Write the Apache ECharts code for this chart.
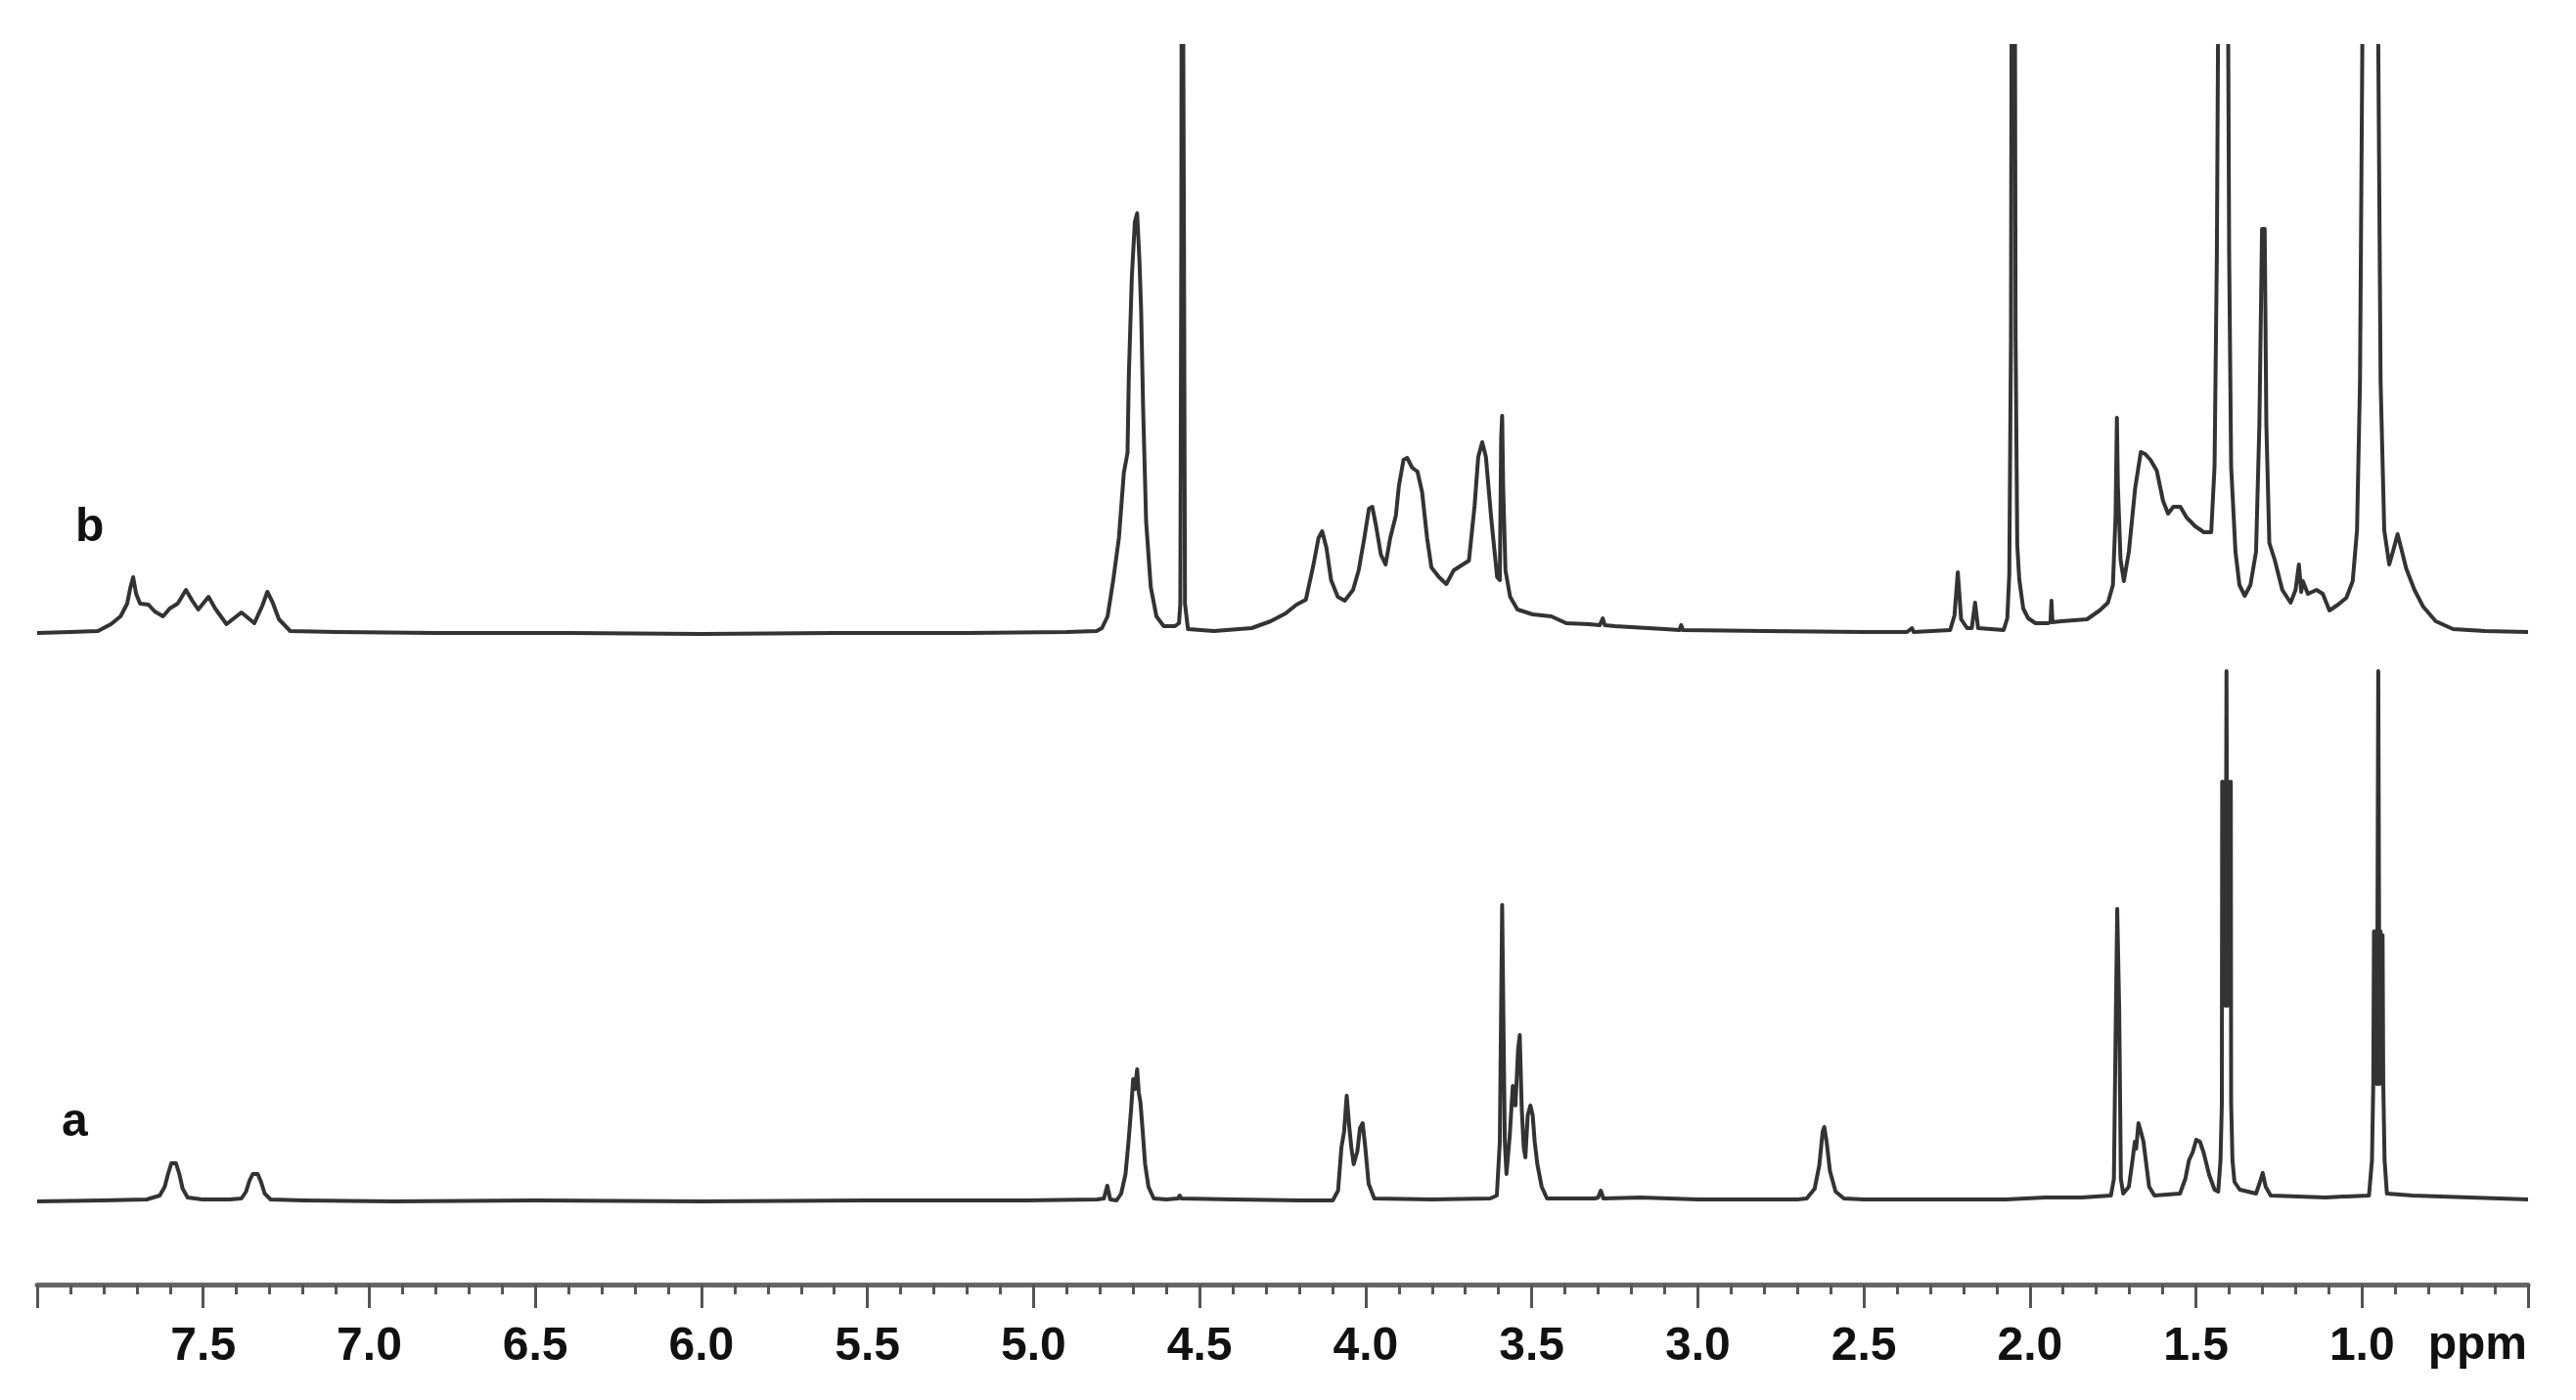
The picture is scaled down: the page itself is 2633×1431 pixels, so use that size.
<!DOCTYPE html>
<html>
<head>
<meta charset="utf-8">
<title>1H NMR spectra a / b</title>
<script src="https://cdn.jsdelivr.net/npm/echarts@6/dist/echarts.min.js"></script>
<style>
    html, body { margin: 0; padding: 0; background: #fff; }
    #chart { width: 2633px; height: 1431px; }
</style>
</head>
<body>
<div id="chart"></div>
<script>
// spectrum a (lower trace): [ppm, intensity]
const traceA = [
    [8.00, 0], [7.80, 1], [7.67, 2], [7.631, 6], [7.616, 15], [7.606, 28], [7.596, 39], [7.582, 39],
    [7.572, 28], [7.562, 13], [7.547, 4], [7.503, 2], [7.42, 2], [7.385, 3], [7.371, 10], [7.361, 21],
    [7.351, 28], [7.336, 28], [7.326, 20], [7.315, 8], [7.297, 2], [7.20, 1], [6.93, 0], [6.50, 1],
    [6.00, 0], [5.50, 1], [5.02, 1], [4.809, 2], [4.788, 3], [4.778, 16], [4.769, 2], [4.750, 1],
    [4.736, 8], [4.723, 28], [4.714, 61], [4.706, 95], [4.700, 125], [4.694, 115], [4.688, 135],
    [4.683, 111], [4.678, 101], [4.672, 75], [4.664, 38], [4.654, 15], [4.638, 3], [4.60, 2],
    [4.565, 3], [4.560, 6], [4.555, 3], [4.40, 2], [4.20, 1], [4.099, 1], [4.083, 11], [4.073, 55],
    [4.065, 71], [4.057, 108], [4.049, 75], [4.043, 55], [4.036, 38], [4.025, 51], [4.017, 75],
    [4.009, 80], [4.001, 55], [3.991, 18], [3.974, 3], [3.80, 2], [3.625, 3], [3.605, 6], [3.596, 61],
    [3.589, 303], [3.581, 61], [3.576, 28], [3.566, 68], [3.557, 118], [3.549, 98], [3.541, 155],
    [3.536, 170], [3.530, 95], [3.524, 55], [3.519, 45], [3.512, 88], [3.504, 98], [3.497, 88],
    [3.491, 61], [3.483, 38], [3.470, 15], [3.454, 3], [3.310, 3], [3.300, 4], [3.292, 11], [3.284, 3],
    [3.172, 4], [3.00, 2], [2.80, 2], [2.70, 2], [2.672, 3], [2.648, 13], [2.634, 37], [2.624, 71],
    [2.619, 76], [2.612, 61], [2.602, 31], [2.585, 10], [2.560, 3], [2.50, 2], [2.30, 2], [2.073, 2],
    [1.953, 4], [1.844, 4], [1.756, 6], [1.747, 23], [1.741, 195], [1.737, 299], [1.731, 195],
    [1.726, 23], [1.719, 8], [1.702, 15], [1.691, 42], [1.684, 61], [1.680, 54], [1.673, 80],
    [1.668, 82], [1.664, 69], [1.658, 61], [1.651, 42], [1.641, 15], [1.625, 6], [1.548, 8],
    [1.532, 23], [1.521, 42], [1.510, 50], [1.499, 63], [1.488, 61], [1.477, 50], [1.460, 27],
    [1.444, 12], [1.433, 10], [1.426, 42], [1.422, 100], [1.421, 429], [1.417, 250], [1.414, 429],
    [1.411, 200], [1.408, 542], [1.405, 200], [1.402, 429], [1.399, 250], [1.395, 429], [1.394, 100],
    [1.390, 42], [1.384, 20], [1.368, 12], [1.319, 8], [1.308, 19], [1.299, 29], [1.290, 15],
    [1.275, 6], [1.110, 4], [1.055, 5], [1.050, 7], [1.045, 5], [0.979, 6], [0.970, 42], [0.966, 120],
    [0.964, 276], [0.961, 150], [0.958, 276], [0.955, 120], [0.951, 542], [0.947, 120], [0.944, 276],
    [0.941, 150], [0.938, 272], [0.936, 120], [0.932, 42], [0.925, 8], [0.848, 6], [0.50, 2]
];

// spectrum b (upper trace)
const traceB = [
    [8.00, 0], [7.90, 1], [7.817, 2], [7.778, 9], [7.749, 17], [7.729, 30], [7.719, 47], [7.711, 57],
    [7.702, 40], [7.690, 30], [7.665, 29], [7.646, 22], [7.621, 17], [7.601, 25], [7.577, 30],
    [7.552, 44], [7.533, 33], [7.515, 24], [7.484, 37], [7.464, 25], [7.430, 9], [7.385, 21],
    [7.346, 10], [7.322, 28], [7.307, 42], [7.292, 32], [7.272, 14], [7.238, 2], [7.10, 1], [6.80, 0],
    [6.40, 0], [6.00, -1], [5.60, 0], [5.20, 0], [4.90, 1], [4.81, 2], [4.794, 5], [4.777, 17],
    [4.760, 54], [4.743, 97], [4.728, 164], [4.717, 184], [4.713, 264], [4.704, 364], [4.695, 420],
    [4.688, 429], [4.681, 380], [4.676, 330], [4.670, 230], [4.661, 114], [4.647, 47], [4.630, 17],
    [4.608, 7], [4.574, 7], [4.562, 10], [4.558, 30], [4.555, 400], [4.553, 1000], [4.549, 1000],
    [4.547, 400], [4.544, 30], [4.535, 4], [4.457, 2], [4.343, 5], [4.286, 12], [4.241, 20],
    [4.208, 29], [4.180, 34], [4.157, 70], [4.142, 97], [4.131, 104], [4.118, 87], [4.104, 54],
    [4.084, 37], [4.063, 33], [4.038, 44], [4.021, 64], [4.004, 97], [3.990, 127], [3.980, 129],
    [3.969, 110], [3.954, 80], [3.940, 70], [3.926, 97], [3.909, 120], [3.900, 150], [3.886, 177],
    [3.875, 179], [3.860, 169], [3.844, 165], [3.830, 144], [3.815, 97], [3.802, 67], [3.779, 57],
    [3.757, 50], [3.735, 64], [3.712, 69], [3.689, 74], [3.672, 130], [3.661, 180], [3.649, 195],
    [3.638, 180], [3.621, 114], [3.604, 57], [3.596, 54], [3.592, 200], [3.589, 222], [3.586, 150],
    [3.579, 64], [3.565, 37], [3.543, 24], [3.497, 19], [3.441, 17], [3.396, 10], [3.328, 9],
    [3.295, 8], [3.286, 15], [3.280, 8], [3.25, 7], [3.10, 4], [3.055, 3], [3.050, 8], [3.045, 3],
    [2.80, 2], [2.50, 1], [2.37, 1], [2.355, 5], [2.350, 1], [2.240, 3], [2.227, 18], [2.217, 62],
    [2.207, 14], [2.189, 5], [2.175, 5], [2.165, 31], [2.156, 5], [2.079, 3], [2.068, 15], [2.062, 60],
    [2.057, 300], [2.053, 1000], [2.047, 1000], [2.043, 300], [2.038, 90], [2.032, 55], [2.020, 25],
    [2.005, 15], [1.983, 10], [1.945, 10], [1.938, 11], [1.935, 33], [1.932, 11], [1.906, 12],
    [1.828, 14], [1.790, 23], [1.765, 31], [1.750, 49], [1.742, 120], [1.738, 220], [1.735, 150],
    [1.727, 75], [1.717, 53], [1.702, 83], [1.683, 148], [1.666, 185], [1.653, 183], [1.637, 177],
    [1.618, 166], [1.599, 135], [1.584, 122], [1.568, 129], [1.547, 129], [1.528, 118], [1.502, 109],
    [1.476, 103], [1.454, 103], [1.444, 170], [1.437, 387], [1.432, 700], [1.425, 1000], [1.411, 1000],
    [1.404, 700], [1.400, 387], [1.394, 170], [1.381, 83], [1.369, 49], [1.353, 38], [1.336, 49],
    [1.319, 83], [1.309, 213], [1.301, 413], [1.293, 413], [1.288, 213], [1.279, 92], [1.263, 75],
    [1.240, 44], [1.215, 31], [1.200, 44], [1.190, 70], [1.183, 42], [1.178, 53], [1.163, 40],
    [1.137, 44], [1.118, 40], [1.098, 23], [1.072, 29], [1.047, 36], [1.028, 53], [1.015, 105],
    [1.006, 257], [0.997, 700], [0.990, 1000], [0.960, 1000], [0.953, 700], [0.944, 257], [0.933, 105],
    [0.918, 70], [0.903, 88], [0.893, 101], [0.883, 88], [0.867, 66], [0.842, 44], [0.816, 27],
    [0.778, 12], [0.726, 4], [0.630, 2], [0.500, 1]
];

const traceLabels = ['a', 'b'];
const unitLabel = 'ppm';

let chart = echarts.init(document.getElementById('chart'));

const fontFamily = '"Liberation Sans", Arial, Helvetica, sans-serif';
const ink = '#333';

chart.setOption({
    animation: false,
    backgroundColor: '#fff',
    grid: {
        left: 38,
        right: 49,
        top: 47,
        bottom: 118,
        containLabel: false
    },
    xAxis: {
        type: 'value',
        min: 0.5,
        max: 8.0,
        interval: 0.5,
        inverse: true,
        splitLine: { show: false },
        axisLine: {
            show: true,
            onZero: false,
            lineStyle: { color: '#666', width: 5 }
        },
        axisTick: {
            show: true,
            length: 24,
            lineStyle: { color: '#555', width: 3 }
        },
        minorTick: {
            show: true,
            splitNumber: 5,
            length: 10,
            lineStyle: { color: '#555', width: 3 }
        },
        axisLabel: {
            margin: 40,
            fontSize: 48,
            fontWeight: 'bold',
            fontFamily: fontFamily,
            color: '#111',
            formatter: function (v) {
                // no label at the two ends (the right one is replaced by "ppm")
                if (v > 7.99 || v < 0.51) return '';
                return v.toFixed(1);
            }
        }
    },
    yAxis: [
        {
            // trace a: baseline sits 85 px above the axis line
            type: 'value', show: false, min: -85, max: 1181,
            splitLine: { show: false }
        },
        {
            // trace b: baseline sits 666 px above the axis line
            type: 'value', show: false, min: -666, max: 600,
            splitLine: { show: false }
        }
    ],
    series: [
        {
            name: traceLabels[0],
            type: 'line',
            yAxisIndex: 0,
            data: traceA,
            showSymbol: false,
            clip: true,
            lineStyle: { color: ink, width: 4, join: 'round' }
        },
        {
            name: traceLabels[1],
            type: 'line',
            yAxisIndex: 1,
            data: traceB,
            showSymbol: false,
            clip: true,
            lineStyle: { color: ink, width: 4, join: 'round' }
        }
    ],
    graphic: [
        {
            type: 'text', left: 77, top: 516,
            style: { text: traceLabels[1], font: 'bold 48px ' + fontFamily, fill: '#111' }
        },
        {
            type: 'text', left: 63, top: 1124,
            style: { text: traceLabels[0], font: 'bold 48px ' + fontFamily, fill: '#111' }
        },
        {
            type: 'text', right: 2633 - 2583, top: 1352,
            style: { text: unitLabel, font: 'bold 48px ' + fontFamily, fill: '#111' }
        }
    ]
});
</script>
</body>
</html>
